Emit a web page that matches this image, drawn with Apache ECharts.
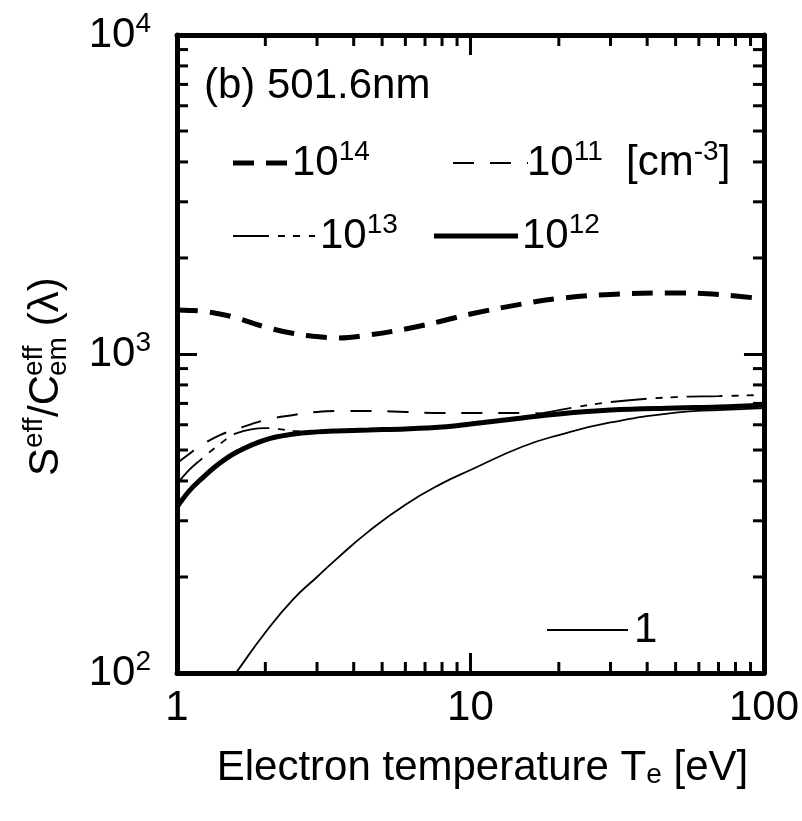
<!DOCTYPE html>
<html><head><meta charset="utf-8">
<script src="https://cdn.jsdelivr.net/npm/echarts@6/dist/echarts.min.js"></script>
<style>html,body{margin:0;padding:0;background:#fff;}#c{width:802px;height:821px;}</style>
</head><body><div id="c"></div>
<script>
// ---- data ----
const temperature = [1, 1.1, 1.2, 1.4, 1.6, 2, 2.5, 3, 3.5, 4.5, 6, 8, 10, 15, 20, 30, 50, 70, 100];
const ne1e14 = [1374, 1370, 1364, 1335, 1297, 1215, 1159, 1134, 1122, 1147, 1198, 1269, 1335, 1435, 1493, 1537, 1553, 1537, 1487];
const ne1e11 = [455, 486, 515, 557, 582, 621, 644, 658, 663, 663, 658, 653, 653, 653, 649, 667, 677, 682, 692];
const ne1e13 = [391, 433, 465, 522, 565, 586, 574, 570, 574, 578, 582, 590, 603, 635, 667, 707, 733, 738, 744];
const ne1e12 = [331, 372, 403, 455, 493, 538, 561, 570, 574, 578, 582, 590, 603, 630, 649, 667, 677, 682, 692];
const temperatureLow = [1.5, 1.6, 2, 2.5, 3, 3.5, 4.5, 6, 8, 10, 15, 20, 30, 50, 70, 100];
const ne1 = [93, 101, 134, 171, 200, 228, 278, 337, 393, 433, 512, 557, 610, 655, 667, 677];
const xRange = [1, 100];
const yRange = [100, 10000];
const xMinorTicks = [2, 3, 4, 5, 6, 7, 8, 9, 20, 30, 40, 50, 60, 70, 80, 90];
const yMinorTicks = [200, 300, 400, 500, 600, 700, 800, 900, 2000, 3000, 4000, 5000, 6000, 7000, 8000, 9000];

// ---- styles ----
const FONT = '"Liberation Sans", Arial, Helvetica, sans-serif';
const FS = 42, SUP = 28;
const st = {
  e14: { color: '#000', width: 5, type: [21, 12], cap: 'butt' },
  e11: { color: '#000', width: 2, type: [21, 16], cap: 'butt' },
  e13: { color: '#000', width: 1.8, type: [36, 9, 7, 8, 7, 9], cap: 'butt' },
  e12: { color: '#000', width: 5, type: 'solid' },
  one: { color: '#000', width: 1.8, type: 'solid' }
};
const pairs = (xs, ys) => xs.map((x, i) => [x, ys[i]]);
const supRich = {
  b: { fontSize: FS, fontFamily: FONT, color: '#000', lineHeight: 50 },
  sup: { fontSize: SUP, fontFamily: FONT, color: '#000', lineHeight: 26, verticalAlign: 'top' }
};

const chart = echarts.init(document.getElementById('c'));

function tickSeries(values, isX) {
  return {
    type: 'custom', silent: true, clip: false, z: 10,
    xAxisIndex: 0, yAxisIndex: 0,
    data: values.map(v => isX ? [v, yRange[0]] : [xRange[0], v]),
    renderItem: function (params, api) {
      const len = 11, s = { stroke: '#000', lineWidth: 3 };
      if (isX) {
        const v = api.value(0);
        const b = api.coord([v, yRange[0]]), t = api.coord([v, yRange[1]]);
        return { type: 'group', children: [
          { type: 'line', shape: { x1: b[0], y1: b[1], x2: b[0], y2: b[1] - len }, style: s },
          { type: 'line', shape: { x1: t[0], y1: t[1], x2: t[0], y2: t[1] + len }, style: s }
        ] };
      } else {
        const v = api.value(1);
        const l = api.coord([xRange[0], v]), r = api.coord([xRange[1], v]);
        return { type: 'group', children: [
          { type: 'line', shape: { x1: l[0], y1: l[1], x2: l[0] + len, y2: l[1] }, style: s },
          { type: 'line', shape: { x1: r[0], y1: r[1], x2: r[0] - len, y2: r[1] }, style: s }
        ] };
      }
    }
  };
}

const axisCommon = {
  type: 'log', logBase: 10,
  axisLine: { show: true, onZero: false, lineStyle: { color: '#000', width: 5 } },
  axisTick: { show: true, inside: true, length: 20, lineStyle: { color: '#000', width: 3 } },
  splitLine: { show: false }, minorTick: { show: false }
};

function legendSample(x1, x2, y, s) {
  return { type: 'line', shape: { x1: x1, y1: y, x2: x2, y2: y },
    style: { stroke: '#000', lineWidth: s.width, lineDash: Array.isArray(s.type) ? s.type : null, lineCap: 'butt' } };
}
function legendText(x, y, text) {
  return { type: 'text', x: x, y: y,
    style: { text: text, rich: supRich, align: 'left', verticalAlign: 'middle', fill: '#000', font: FS + 'px ' + FONT } };
}

const option = {
  animation: false,
  backgroundColor: '#fff',
  grid: { left: 177, right: 37, top: 35, bottom: 148, containLabel: false },
  xAxis: [
    Object.assign({}, axisCommon, {
      position: 'bottom', min: xRange[0], max: xRange[1],
      axisLabel: { color: '#000', fontSize: FS, fontFamily: FONT, margin: 14 },
      name: 'Electron temperature T{sub|e} [eV]', nameLocation: 'middle', nameGap: 74,
      nameTextStyle: { color: '#000', fontSize: FS, fontFamily: FONT, padding: [0, 0, 0, 24],
        rich: { sub: { fontSize: SUP, fontFamily: FONT, color: '#000', verticalAlign: 'bottom', lineHeight: 14 } } }
    }),
    Object.assign({}, axisCommon, { position: 'top', min: xRange[0], max: xRange[1], axisLabel: { show: false } })
  ],
  yAxis: [
    Object.assign({}, axisCommon, {
      position: 'left', min: yRange[0], max: yRange[1],
      axisLabel: { margin: 26, formatter: v => '{b|10}{sup|' + Math.round(Math.log10(v)) + '}', rich: supRich }
    }),
    Object.assign({}, axisCommon, { position: 'right', min: yRange[0], max: yRange[1], axisLabel: { show: false } })
  ],
  series: [
    { name: '10^14', type: 'line', data: pairs(temperature, ne1e14), symbol: 'none', smooth: 0.4, lineStyle: st.e14, z: 3 },
    { name: '10^11', type: 'line', data: pairs(temperature, ne1e11), symbol: 'none', smooth: 0.4, lineStyle: st.e11, z: 3 },
    { name: '10^13', type: 'line', data: pairs(temperature, ne1e13), symbol: 'none', smooth: 0.4, lineStyle: st.e13, z: 3 },
    { name: '1', type: 'line', data: pairs(temperatureLow, ne1), symbol: 'none', smooth: 0.5, lineStyle: st.one, z: 3 },
    { name: '10^12', type: 'line', data: pairs(temperature, ne1e12), symbol: 'none', smooth: 0.4, lineStyle: st.e12, z: 4 },
    tickSeries(xMinorTicks, true),
    tickSeries(yMinorTicks, false)
  ],
  graphic: [
    { type: 'text', x: 204, y: 86, style: { text: '(b) 501.6nm', fill: '#000', font: FS + 'px ' + FONT, verticalAlign: 'middle' } },
    legendSample(233, 292, 163, st.e14), legendText(292, 163, '{b|10}{sup|14}'),
    legendSample(453, 528, 163, st.e11), legendText(527, 163, '{b|10}{sup|11}{b|  [cm}{sup|-3}{b|]}'),
    legendSample(233, 315, 236, st.e13), legendText(320, 236, '{b|10}{sup|13}'),
    legendSample(434, 518, 236, st.e12), legendText(522, 236, '{b|10}{sup|12}'),
    legendSample(547, 628, 630, st.one), legendText(634, 630, '{b|1}'),
    { type: 'group', x: 46, y: 352, rotation: Math.PI / 2, children: [
      { type: 'text', x: -124, y: 0, style: { text: 'S', fill: '#000', font: FS + 'px ' + FONT, verticalAlign: 'middle' } },
      { type: 'text', x: -96, y: -12, style: { text: 'eff', fill: '#000', font: SUP + 'px ' + FONT, verticalAlign: 'middle' } },
      { type: 'text', x: -65, y: 0, style: { text: '/C', fill: '#000', font: FS + 'px ' + FONT, verticalAlign: 'middle' } },
      { type: 'text', x: -24, y: -12, style: { text: 'eff', fill: '#000', font: SUP + 'px ' + FONT, verticalAlign: 'middle' } },
      { type: 'text', x: -24, y: 12, style: { text: 'em', fill: '#000', font: SUP + 'px ' + FONT, verticalAlign: 'middle' } },
      { type: 'text', x: 14, y: 0, style: { text: ' (λ)', fill: '#000', font: FS + 'px ' + FONT, verticalAlign: 'middle' } }
    ] }
  ]
};
chart.setOption(option);
</script></body></html>
